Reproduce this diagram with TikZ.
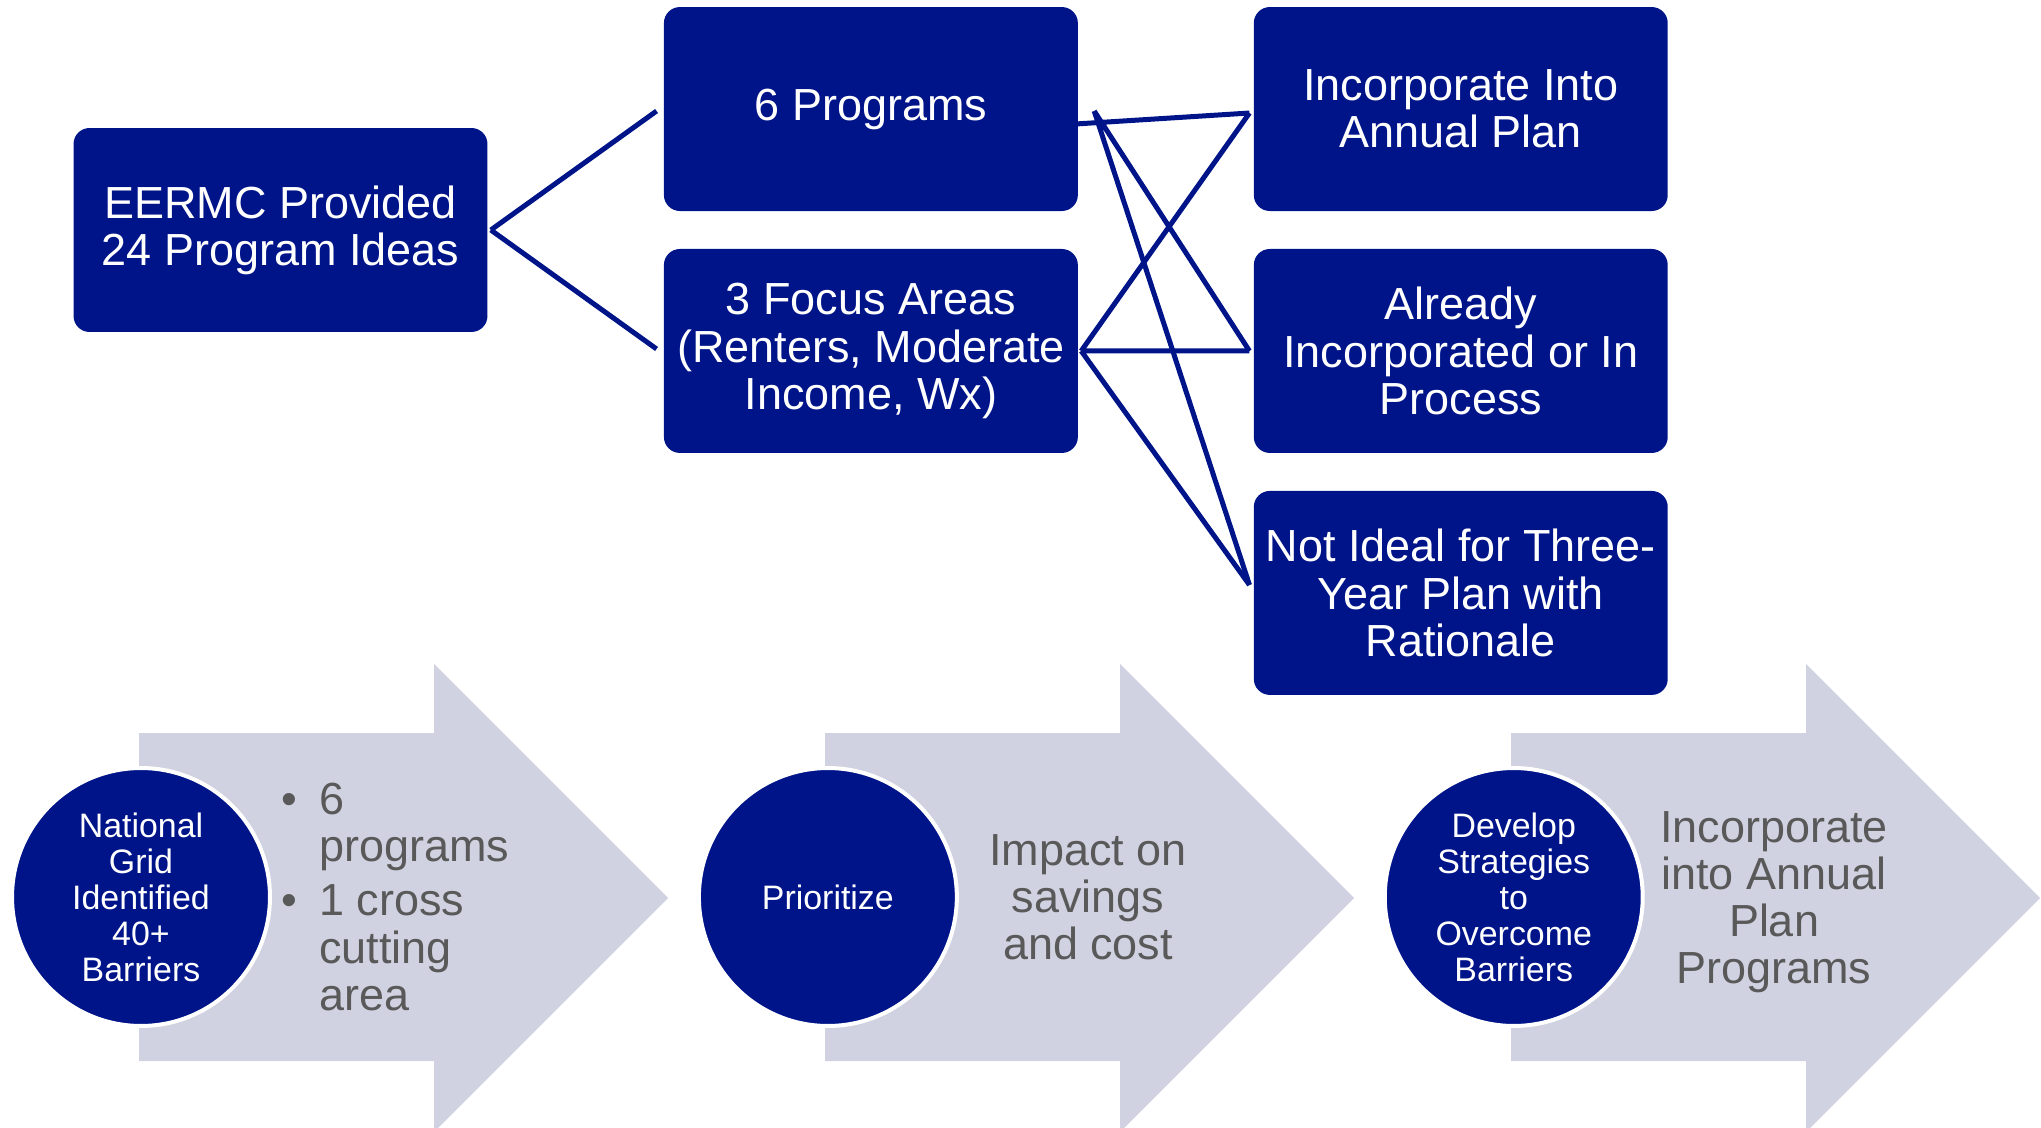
\documentclass[tikz,border=0pt]{standalone}
\usepackage{fontspec}
\setmainfont{Liberation Sans}
\usetikzlibrary{positioning,calc}

\definecolor{navy}{RGB}{0,20,137}
\definecolor{arrowgray}{RGB}{208,210,225}
\definecolor{textgray}{RGB}{89,89,89}
\newcommand\bigtxt{\fontsize{25.6pt}{26.8pt}\selectfont}
\newcommand\smalltxt{\fontsize{19.3pt}{20.5pt}\selectfont}

\begin{document}
\begin{tikzpicture}[x=0.02cm,y=-0.02cm,node distance=4.84cm,on grid,
  box/.style={rectangle,rounded corners=0.32cm,fill=navy,text=white,
    minimum width=8.28cm,minimum height=4.08cm,inner sep=0pt,
    align=center,font=\bigtxt},
  disc/.style={circle,fill=navy,draw=white,line width=0.08cm,text=white,
    minimum size=5.16cm,inner sep=0pt,align=center,font=\smalltxt},
  graytext/.style={text=textgray,align=center,font=\bigtxt,inner sep=0pt},
  link/.style={draw=navy,line width=0.1cm}]
\useasboundingbox (0,0) rectangle (2041,1128);

% top part
  \node[box]          (eermc) at (280.5,230)              {EERMC Provided\\24 Program Ideas};
  \node[box]          (p6)    [above right=2.42cm and 11.81cm of eermc] {6 Programs};
  \node[box]          (focus) [below=of p6]               {3 Focus Areas\\(Renters, Moderate\\Income, Wx)};
  \node[box]          (inc)   [right=11.8cm of p6]        {Incorporate Into\\Annual Plan};
  \node[box]          (alr)   [below=of inc]              {Already\\Incorporated or In\\Process};
  \node[box]          (notid) [below=of alr]              {Not Ideal for Three-\\Year Plan with\\Rationale};

  \coordinate (eout)  at ($(eermc.east)+(3,0)$);
  \coordinate (p6out) at ($(p6.east)+(-3,15)$);
  \coordinate (p6x)   at ($(p6.east)+(16,2)$);
  \coordinate (focusout) at ($(focus.east)+(3,0)$);
  \coordinate (incin) at ($(inc.west)+(-4,4)$);
  \coordinate (alrin) at ($(alr.west)+(-4,0)$);
  \coordinate (notin) at ($(notid.west)+(-4,-8)$);

\path[link] (eout) -- ($(p6.west)+(-7,2)$)
            (eout) -- ($(focus.west)+(-7,-2)$);
\path[link] (p6out) -- (incin)
            (p6x)   -- (alrin)
            (p6x)   -- (notin);
\path[link] (focusout) -- (incin)
            (focusout) -- (alrin)
            (focusout) -- (notin);

% bottom part
\foreach \dx in {0,686,1372}
  \fill[arrowgray] (139+\dx,733) -- (434+\dx,733) -- (434+\dx,664) -- (668+\dx,898)
    -- (434+\dx,1132) -- (434+\dx,1061) -- (139+\dx,1061) -- cycle;

  \node[disc]         (c1) at (141,897)          {National\\Grid\\Identified\\40+\\Barriers};
  \node[disc]         (c2) [right=13.74cm of c1] {Prioritize};
  \node[disc]         (c3) [right=13.72cm of c2] {Develop\\Strategies\\to\\Overcome\\Barriers};

  \node[graytext,anchor=west] (t1) at (281,903)
    {\begin{tabular}{@{}l@{\hspace{0.44cm}}l@{}}
      \textbullet & 6\\ & programs\\[0.14cm]
      \textbullet & 1 cross\\ & cutting\\ & area
     \end{tabular}};
  \node[graytext]     (t2) at (1088,897)         {Impact on\\savings\\and cost};
  \node[graytext]     (t3) at (1774,902)         {Incorporate\\into Annual\\Plan\\Programs};
\end{tikzpicture}
\end{document}
